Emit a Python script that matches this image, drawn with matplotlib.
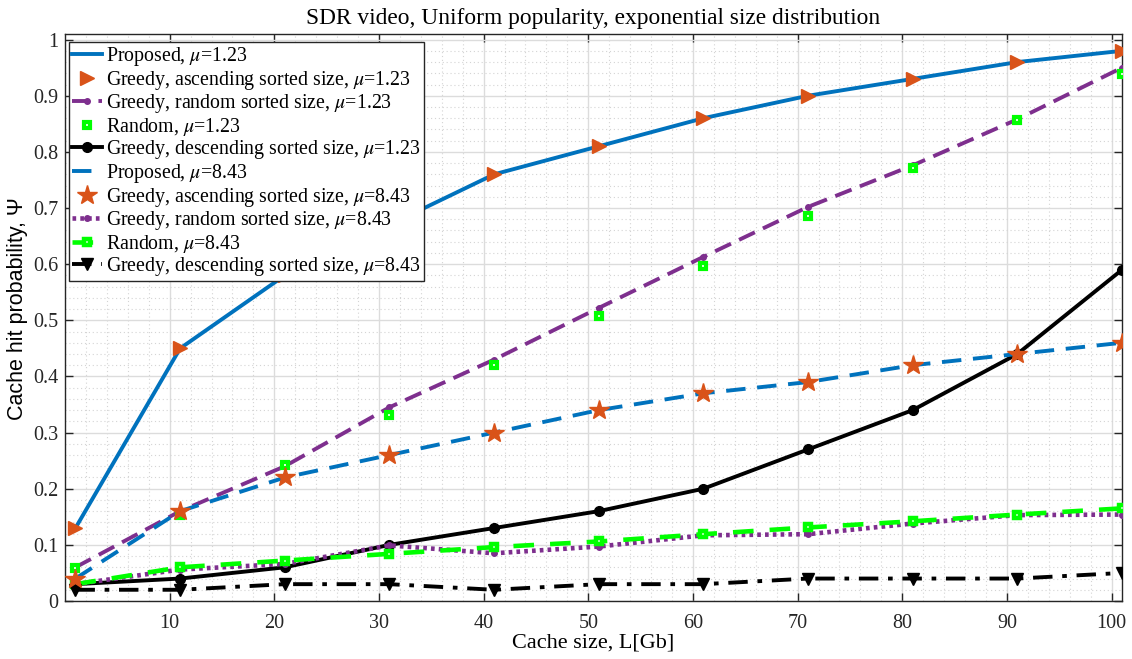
import matplotlib
matplotlib.use("Agg")
import matplotlib.pyplot as plt
from matplotlib.ticker import MultipleLocator

plt.rcParams['font.family'] = ['Liberation Serif', 'DejaVu Serif']
plt.rcParams['mathtext.fontset'] = 'stix'

cache_size = [1, 11, 21, 31, 41, 51, 61, 71, 81, 91, 101]

proposed_123 = [0.13, 0.45, 0.58, 0.67, 0.76, 0.81, 0.86, 0.90, 0.93, 0.96, 0.98]
greedy_asc_123 = [0.13, 0.45, 0.58, 0.67, 0.76, 0.81, 0.86, 0.90, 0.93, 0.96, 0.98]
greedy_rand_123 = [0.06, 0.16, 0.24, 0.345, 0.43, 0.522, 0.613, 0.702, 0.776, 0.858, 0.95]
random_123 = [0.058, 0.153, 0.242, 0.332, 0.42, 0.508, 0.597, 0.685, 0.771, 0.856, 0.938]
greedy_desc_123 = [0.03, 0.04, 0.06, 0.10, 0.13, 0.16, 0.20, 0.27, 0.34, 0.44, 0.59]

proposed_843 = [0.04, 0.16, 0.22, 0.26, 0.30, 0.34, 0.37, 0.39, 0.42, 0.44, 0.46]
greedy_asc_843 = [0.04, 0.16, 0.22, 0.26, 0.30, 0.34, 0.37, 0.39, 0.42, 0.44, 0.46]
greedy_rand_843 = [0.03, 0.056, 0.066, 0.099, 0.085, 0.097, 0.117, 0.119, 0.138, 0.153, 0.154]
random_843 = [0.03, 0.06, 0.072, 0.084, 0.096, 0.106, 0.119, 0.131, 0.142, 0.154, 0.165]
greedy_desc_843 = [0.02, 0.02, 0.03, 0.03, 0.02, 0.03, 0.03, 0.04, 0.04, 0.04, 0.05]

labels = [
    r'Proposed, $\mu$=1.23',
    r'Greedy, ascending sorted size, $\mu$=1.23',
    r'Greedy, random sorted size, $\mu$=1.23',
    r'Random, $\mu$=1.23',
    r'Greedy, descending sorted size, $\mu$=1.23',
    r'Proposed, $\mu$=8.43',
    r'Greedy, ascending sorted size, $\mu$=8.43',
    r'Greedy, random sorted size, $\mu$=8.43',
    r'Random, $\mu$=8.43',
    r'Greedy, descending sorted size, $\mu$=8.43',
]

title = 'SDR video, Uniform popularity, exponential size distribution'
xlabel = 'Cache size, L[Gb]'
ylabel = 'Cache hit probability, Ψ'

BLUE = '#0072BD'
ORANGE = '#D95319'
PURPLE = '#7E2F8E'
GREEN = '#00FF00'

fig = plt.figure(figsize=(11.32, 6.59), dpi=100)
ax = fig.add_axes([65/1132, 1-601/659, (1122-65)/1132, (601-34)/659])

ax.plot(cache_size, proposed_123, '-', color=BLUE, lw=2.8, label=labels[0], zorder=3)
ax.plot(cache_size, greedy_asc_123, linestyle='none', marker='>', color=ORANGE, ms=10.5, label=labels[1], zorder=4)
ax.plot(cache_size, greedy_rand_123, '--', color=PURPLE, lw=2.8, dashes=(4.5, 2.3), marker='o', ms=4, label=labels[2], zorder=3)
ax.plot(cache_size, random_123, linestyle='none', marker='s', ms=4.5, mec=GREEN, mfc='white', mew=3, label=labels[3], zorder=4)
ax.plot(cache_size, greedy_desc_123, '-', color='black', lw=2.8, marker='o', ms=7, label=labels[4], zorder=3)

ax.plot(cache_size, proposed_843, '--', color=BLUE, lw=2.8, dashes=(5, 3), label=labels[5], zorder=3)
ax.plot(cache_size, greedy_asc_843, linestyle='none', marker='*', color=ORANGE, ms=15, label=labels[6], zorder=4)
ax.plot(cache_size, greedy_rand_843, ':', color=PURPLE, lw=3.3, dashes=(0.8, 0.9), marker='o', ms=4, label=labels[7], zorder=3)
ax.plot(cache_size, random_843, '--', color=GREEN, lw=3.3, dashes=(4.5, 3.5), marker='s', ms=5, mfc='white', mec=GREEN, mew=3.2, label=labels[8], zorder=3)
ax.plot(cache_size, greedy_desc_843, '-.', color='black', lw=2.8, dashes=(5, 2.5, 1.2, 2.5), marker='v', ms=8.5, label=labels[9], zorder=3)

ax.set_xlim(0, 101)
ax.set_ylim(0, 1.01)
ax.xaxis.set_minor_locator(MultipleLocator(2))
ax.yaxis.set_minor_locator(MultipleLocator(0.02))
ax.set_xticks(range(10, 101, 10))
ax.set_yticks([i/10 for i in range(11)])
ax.set_yticklabels(['0'] + [f'{i/10:.1f}' for i in range(1, 10)] + ['1'])

ax.grid(True, which='major', color='#dcdcdc', lw=1.0, zorder=0)
ax.grid(True, which='minor', color='#d4d4d4', lw=0.8, linestyle=(0, (1, 2.5)), zorder=0)
ax.set_axisbelow(True)
ax.tick_params(which='both', direction='in', top=True, right=True, labelsize=14.5, colors='#262626')
ax.tick_params(which='major', length=6, width=1)
ax.tick_params(which='minor', length=0)
ax.tick_params(axis='x', pad=9)
ax.tick_params(axis='y', pad=5)
for s in ax.spines.values():
    s.set_color('#262626')
    s.set_linewidth(1.0)

ax.set_title(title, fontsize=16.8, pad=7)
ax.set_xlabel(xlabel, fontsize=16, labelpad=1)
ax.set_ylabel(ylabel, fontsize=15.5, family=['Liberation Sans', 'DejaVu Sans'])
ax.yaxis.set_label_coords(-0.035, 0.515)

leg = ax.legend(loc='upper left', bbox_to_anchor=(4/1057, 1 - 8/567), fontsize=14.3, frameon=True,
                fancybox=False, edgecolor='#262626', borderaxespad=0.0, handlelength=1.5,
                handletextpad=0.2, labelspacing=0.03, borderpad=0.15, framealpha=1)
leg.get_frame().set_linewidth(1.0)

fig.savefig('out.png', dpi=100)
